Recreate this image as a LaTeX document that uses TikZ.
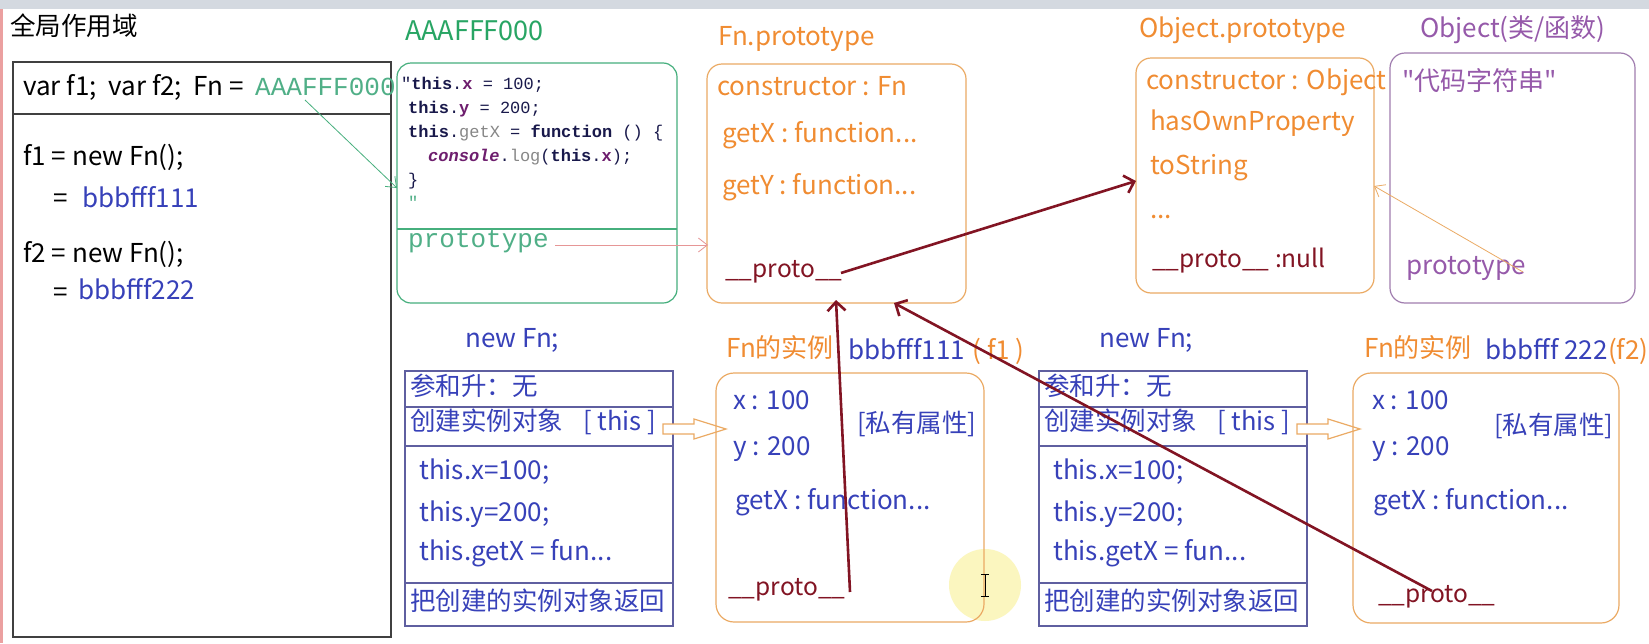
\documentclass[tikz,border=0pt]{standalone}
\usepackage{fontspec}
\setmainfont{Noto Sans CJK SC}
\newfontfamily\monof{Liberation Mono}
\usetikzlibrary{arrows.meta}
\newcommand\fsz[1]{\fontsize{#1}{#1}\selectfont}
\definecolor{gtitle}{RGB}{40,165,100}
\definecolor{gmono}{RGB}{80,175,135}
\definecolor{gborder}{RGB}{70,175,125}
\definecolor{otext}{RGB}{240,140,50}
\definecolor{oborder}{RGB}{235,170,100}
\definecolor{maroon}{RGB}{130,20,35}
\definecolor{btext}{RGB}{55,65,185}
\definecolor{bborder}{RGB}{95,95,160}
\definecolor{ptext}{RGB}{150,90,170}
\definecolor{pborder}{RGB}{160,125,175}
\definecolor{codek}{RGB}{25,25,75}
\definecolor{codep}{RGB}{110,30,110}
\definecolor{codeg}{RGB}{135,135,135}
\definecolor{pinkar}{RGB}{230,150,150}
\definecolor{topband}{RGB}{212,217,224}
\definecolor{edgepink}{RGB}{235,160,160}
\definecolor{hilite}{RGB}{250,244,175}
\begin{document}
\begin{tikzpicture}[x=1pt,y=-1pt,
  t/.style={anchor=mid west, inner sep=0pt, font=\fsz{26}},
  tp/.style={anchor=mid west, inner sep=0pt, font=\fsz{24.5}, text=maroon},
  cjk/.style={anchor=mid west, inner sep=0pt, font=\fsz{25.5}},
  code/.style={anchor=mid west, inner sep=0pt, font=\monof\fsz{17}, text=codek},
  box/.style={draw, line width=1.2pt, inner sep=0pt},
  thinar/.style={line width=0.8pt, -{Straight Barb[length=9pt,width=14pt]}},
  protoar/.style={draw=maroon, line width=2.6pt, -{Straight Barb[length=9pt,width=18pt]}}
]
\useasboundingbox (0,0) rectangle (1649,643);
\fill[white] (0,0) rectangle (1649,643);
\fill[topband] (0,0) rectangle (1649,9);
\fill[edgepink] (0,9) rectangle (2.5,643);

% ---------------- global scope ----------------
\node[cjk] (gtitle) at (10,33) {全局作用域};
\node[box, draw=black!75, minimum width=378, minimum height=575] (global) at (202,349.5) {};
\draw[black!75, line width=1.2pt] (13,114) -- (391,114);
\node[t] (vars) at (23,93) {var f1;\ \ var f2;\ \ Fn =};
\node[anchor=mid west, inner sep=0pt, font=\monof\fsz{26}, text=gmono] (aaa) at (255,93) {AAAFFF000};
\node[t] (f1new) at (23,163) {f1 = new Fn();};
\node[t] (eq1) at (53,205) {=};
\node[t, text=btext] (b111) at (82,205) {bbbfff111};
\node[t] (f2new) at (23,260) {f2 = new Fn();};
\node[t] (eq2) at (53,299) {=};
\node[t, text=btext] (b222) at (78,297) {bbbfff222};

% ---------------- function object ----------------
\node[t, text=gtitle, font=\fsz{27}] (fntitle) at (405,38) {AAAFFF000};
\node[box, draw=gborder, rounded corners=14pt, minimum width=280, minimum height=240] (fnobj) at (537,183) {};
\draw[gborder, line width=1.2pt] (397,229) -- (677,229);
\node[code] (c1) at (401,87) {\textquotedbl\textbf{this}.\textbf{\textcolor{codep}{x}} = 100;};
\node[code] (c2) at (408,111) {\textbf{this}.\textbf{\textcolor{codep}{y}} = 200;};
\node[code] (c3) at (408,135) {\textbf{this}.\textcolor{codeg}{getX} = \textbf{function} () \{};
\node[code] (c4) at (428,159) {\textbf{\textit{\textcolor{codep}{console}}}.\textcolor{codeg}{log}(\textbf{this}.\textbf{\textcolor{codep}{x}});};
\node[code] (c5) at (408,183) {\}};
\node[code, text=gmono] (c6) at (408,206) {\textquotedbl};
\node[anchor=mid west, inner sep=0pt, font=\monof\fsz{26}, text=gmono] (fnproto) at (408,245) {prototype};

% ---------------- Fn.prototype ----------------
\node[t, text=otext] (fnptitle) at (718,43) {Fn.prototype};
\node[box, draw=oborder, rounded corners=15pt, minimum width=259, minimum height=239] (fnp) at (836.5,183.5) {};
\node[t, text=otext] (fnpc) at (717,93) {constructor : Fn};
\node[t, text=otext] (fnpx) at (722,140) {getX : function...};
\node[t, text=otext] (fnpy) at (722,192) {getY : function...};
\node[tp] (fnpproto) at (725,275) {\_\_proto\_\_};

% ---------------- Object.prototype ----------------
\node[t, text=otext] (optitle) at (1139,35) {Object.prototype};
\node[box, draw=oborder, rounded corners=15pt, minimum width=238, minimum height=235] (op) at (1255,175.5) {};
\node[t, text=otext] (opc) at (1146,87) {constructor : Object};
\node[t, text=otext] (oph) at (1150,128) {hasOwnProperty};
\node[t, text=otext] (opt) at (1150,172) {toString};
\node[t, text=otext] (opd) at (1150,216) {...};
\node[tp] (opproto) at (1152,265) {\_\_proto\_\_ :null};

% ---------------- Object ----------------
\node[t, text=ptext] (otitle) at (1420,35) {Object(类/函数)};
\node[box, draw=pborder, rounded corners=15pt, minimum width=245, minimum height=250] (ofn) at (1512.5,178) {};
\node[t, text=ptext] (ocode) at (1402,88) {\textquotedbl 代码字符串\textquotedbl};
\node[t, text=ptext] (oproto) at (1406,272) {prototype};

% ---------------- new Fn boxes ----------------
\foreach \dx/\nm in {0/A, 634/B} {
  \begin{scope}[xshift=\dx]
    \node[t, text=btext] (new\nm) at (465,345) {new Fn;};
    \node[box, draw=bborder, minimum width=268, minimum height=255] (nb\nm) at (539,498.5) {};
    \draw[bborder, line width=1.2pt] (405,407) -- (673,407);
    \draw[bborder, line width=1.2pt] (405,446) -- (673,446);
    \draw[bborder, line width=1.2pt] (405,583) -- (673,583);
    \node[cjk, text=btext] (s1\nm) at (410,393) {参和升：无};
    \node[cjk, text=btext] (s2\nm) at (410,428) {创建实例对象\hspace{20pt}[ this ]};
    \node[t, text=btext] (s3\nm) at (419,477) {this.x=100;};
    \node[t, text=btext] (s4\nm) at (419,519) {this.y=200;};
    \node[t, text=btext] (s5\nm) at (419,558) {this.getX = fun...};
    \node[cjk, text=btext] (s6\nm) at (410,608) {把创建的实例对象返回};
    \draw[oborder, line width=1.2pt, fill=white]
      (663,424) -- (694,424) -- (694,419) -- (726,429) -- (694,439) -- (694,434) -- (663,434) -- cycle;
  \end{scope}
}

% ---------------- instances ----------------
\fill[hilite, opacity=0.8] (985,585) circle (36);
\node[t, text=otext] (i1title) at (726,355) {Fn的实例};
\node[t, text=btext] (i1addr) at (848,357) {bbbfff111};
\node[t, text=otext, xshift=7pt] (i1name) at (i1addr.mid east) {(\hspace{6pt}f1\hspace{6pt})};
\node[box, draw=oborder, rounded corners=18pt, minimum width=268, minimum height=249] (inst1) at (850,497.5) {};
\node[t, text=btext] (i1x) at (733,407) {x : 100};
\node[t, text=btext] (i1y) at (733,453) {y : 200};
\node[cjk, text=btext] (i1p) at (857,430) {[私有属性]};
\node[t, text=btext] (i1g) at (735,507) {getX : function...};
\node[tp] (i1proto) at (728,593) {\_\_proto\_\_};
\draw[black, line width=1pt] (985,574) -- (985,596) (981,574) -- (989,574) (981,596) -- (989,596);

\node[t, text=otext] (i2title) at (1364,355) {Fn的实例};
\node[t, text=btext] (i2addr) at (1485,357) {bbbfff 222};
\node[t, text=otext] (i2name) at (i2addr.mid east) {(f2)};
\node[box, draw=oborder, rounded corners=18pt, minimum width=266, minimum height=250] (inst2) at (1486,498) {};
\node[t, text=btext] (i2x) at (1372,407) {x : 100};
\node[t, text=btext] (i2y) at (1372,453) {y : 200};
\node[cjk, text=btext] (i2p) at (1494,432) {[私有属性]};
\node[t, text=btext] (i2g) at (1373,507) {getX : function...};
\node[tp] (i2proto) at (1378,600) {\_\_proto\_\_};

% ---------------- connectors ----------------
\coordinate (gA) at (305,100);
\coordinate (gB) at (397,188);
\draw[thinar, draw=gborder] (gA) -- (gB);
\coordinate (pA) at (555,245);
\coordinate (pB) at (708,245);
\draw[thinar, draw=pinkar] (pA) -- (pB);
\coordinate (oA) at (1523,272);
\coordinate (oB) at (1374,186);
\draw[thinar, draw=oborder] (oA) -- (oB);

\coordinate (m1a) at (841,273);
\coordinate (m1b) at (1136,181);
\draw[protoar] (m1a) -- (m1b);
\coordinate (m2a) at (850,592);
\coordinate (m2b) at (836,300);
\draw[protoar] (m2a) -- (m2b);
\coordinate (m3a) at (1432,591);
\coordinate (m3b) at (894,303);
\draw[protoar] (m3a) -- (m3b);
\end{tikzpicture}
\end{document}
